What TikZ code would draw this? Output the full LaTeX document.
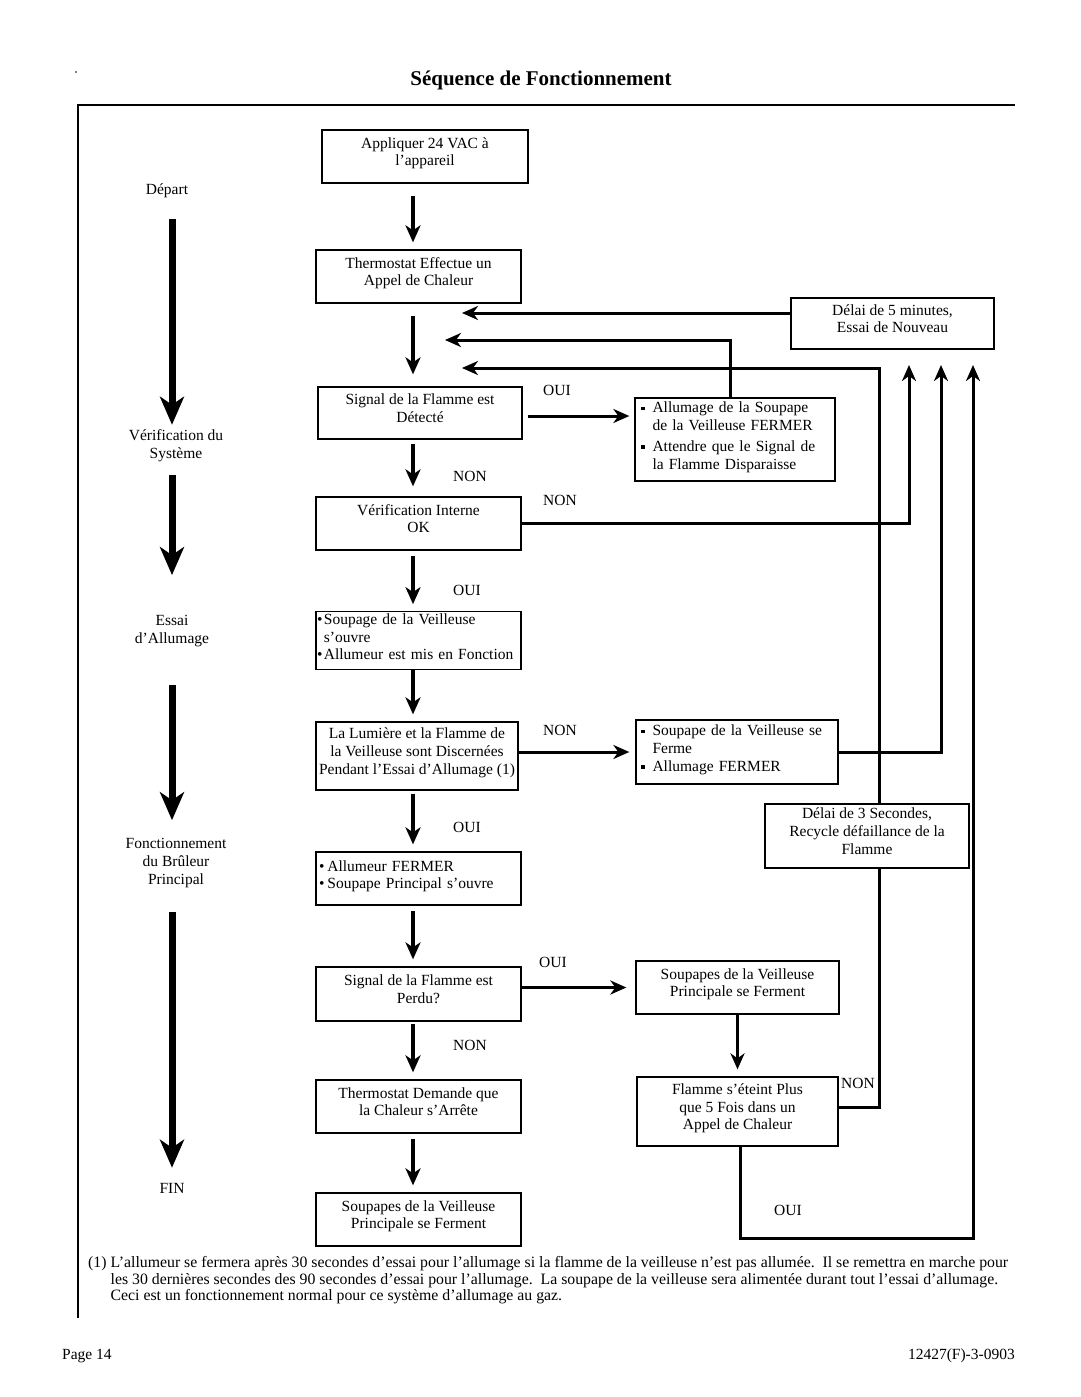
\documentclass[tikz,border=0pt]{standalone}
\usepackage{fontspec}
\setmainfont{Liberation Serif}
\usetikzlibrary{arrows.meta}
\newcommand{\bxf}{\fontsize{15.5}{17.8}\selectfont}
\newcommand{\ftf}{\fontsize{15.8}{16.5}\selectfont}
\newcommand{\sqb}{\raisebox{2.5pt}{\rule{3.5pt}{3.5pt}}}
\newcommand{\bt}[1]{\raisebox{3pt}[\height][\depth]{\begin{tabular}{@{}c@{}}#1\end{tabular}}}
\newcommand{\bl}[2]{\raisebox{2pt}[\height][\depth]{\begin{tabular}{@{}l@{\hspace{#1}}l@{}}#2\end{tabular}}}
\begin{document}
\begin{tikzpicture}[x=1pt,y=-1pt,
 box/.style={draw,line width=1.3pt,inner sep=2pt,align=center,font=\bxf},
 lbox/.style={box,align=left},
 lbl/.style={font=\bxf,inner sep=1pt},
 sarr/.style={line width=3.5pt,-{Stealth[length=17pt,width=15pt,inset=5pt]},shorten <=5pt,shorten >=7pt},
 conn/.style={line width=3pt,-{Stealth[length=16pt,width=14pt,inset=5pt]}},
 plainline/.style={line width=3pt},
 stage/.style={line width=7pt,-{Stealth[length=28pt,width=24pt,inset=8pt]}},
 frame/.style={line width=1.5pt}
]
\useasboundingbox (0,0) rectangle (1080,1397);

% title and frame
\fill (76,72) circle (0.8);
\node[font=\bfseries\fontsize{21}{25}\selectfont] (title) at (541,80) {Séquence de Fonctionnement};
\draw[frame] (1015,105) -- (78,105) -- (78,1318);

% helper coordinates
\coordinate (cb) at (413,0);
\coordinate (col) at (172,0);
\coordinate (v3) at (879,0);
\coordinate (t1) at (462,313);
\coordinate (t2) at (445,340);
\coordinate (t3) at (462,368);
\coordinate (u1) at (909,365);
\coordinate (u2) at (941,365);
\coordinate (u3) at (973,365);
\coordinate (c3) at (973,1238);

% stage labels
\node[lbl] (s1) at (167,191) {Départ};
\node[lbl,align=center] (s2) at (176,446) {Vérification du\\Système};
\node[lbl,align=center] (s3) at (172,631) {Essai\\d’Allumage};
\node[lbl,align=center] (s4) at (176,863) {Fonctionnement\\du Brûleur\\Principal};
\node[lbl] (s5) at (172,1188) {FIN};

\draw[stage,shorten <=20pt,shorten >=4pt] (s1.south -| col) -- (s2.north -| col);
\draw[stage,shorten <=12pt,shorten >=39pt] (s2.south -| col) -- (s3.north -| col);
\draw[stage,shorten <=37pt,shorten >=17pt] (s3.south -| col) -- (s4.north -| col);
\draw[stage,shorten <=23pt,shorten >=14pt] (s4.south -| col) -- (s5.north -| col);

% main column
\node[box,minimum width=206pt,minimum height=53pt] (ap) at (425,156.5) {\bt{Appliquer 24 VAC à\\l’appareil}};
\node[box,minimum width=205pt,minimum height=53pt] (th) at (418.5,276.5) {\bt{Thermostat Effectue un\\Appel de Chaleur}};
\node[box,minimum width=204pt,minimum height=52pt] (sd) at (420,413) {\bt{Signal de la Flamme est\\Détecté}};
\node[box,minimum width=205pt,minimum height=53pt] (vi) at (418.5,523.5) {\bt{Vérification Interne\\OK}};
\node[lbox,minimum width=205pt,minimum height=57pt,text width=203pt,inner xsep=1pt] (so) at (418.5,640.5)
 {\bl{1.5pt}{\textbullet&Soupage de la Veilleuse\\&s’ouvre\\\textbullet&Allumeur est mis en Fonction}};
\node[box,minimum width=202pt,minimum height=68pt,inner xsep=0pt] (lu) at (417,756) {\bt{La Lumière et la Flamme de\\la Veilleuse sont Discernées\\Pendant l’Essai d’Allumage (1)}};
\node[lbox,minimum width=205pt,minimum height=53pt,text width=199pt,inner xsep=3pt] (af) at (418.5,878.5)
 {\bl{3pt}{\textbullet&Allumeur FERMER\\\textbullet&Soupape Principal s’ouvre}};
\node[box,minimum width=205pt,minimum height=54pt] (pe) at (418.5,994) {\bt{Signal de la Flamme est\\Perdu?}};
\node[box,minimum width=205pt,minimum height=53pt] (td) at (418.5,1106.5) {\bt{Thermostat Demande que\\la Chaleur s’Arrête}};
\node[box,minimum width=205pt,minimum height=53pt] (sv) at (418.5,1219.5) {\bt{Soupapes de la Veilleuse\\Principale se Ferment}};

% right column
\node[box,minimum width=203pt,minimum height=51pt] (d5) at (892.5,323.5) {\bt{Délai de 5 minutes,\\Essai de Nouveau}};
\node[lbox,minimum width=200pt,minimum height=83pt,text width=188pt,inner xsep=6pt] (al) at (735,439.5)
 {\bl{8pt}{\sqb&Allumage de la Soupape\\&de la Veilleuse FERMER\\[3pt]\sqb&Attendre que le Signal de\\&la Flamme Disparaisse}};
\node[lbox,minimum width=202pt,minimum height=64pt,text width=192pt,inner xsep=5pt] (sf) at (737,752)
 {\bl{8pt}{\sqb&Soupape de la Veilleuse se\\&Ferme\\\sqb&Allumage FERMER}};
\node[box,minimum width=204pt,minimum height=64pt] (d3) at (867,836) {\bt{Délai de 3 Secondes,\\Recycle défaillance de la\\Flamme}};
\node[box,minimum width=203pt,minimum height=53pt] (sp) at (737.5,987.5) {\bt{Soupapes de la Veilleuse\\Principale se Ferment}};
\node[box,minimum width=201pt,minimum height=69pt] (fl) at (737.5,1111.5) {\bt{Flamme s’éteint Plus\\que 5 Fois dans un\\Appel de Chaleur}};

% labels
\node[lbl] (l1) at (557,390) {OUI};
\node[lbl] (l2) at (470,476) {NON};
\node[lbl] (l3) at (560,500) {NON};
\node[lbl] (l4) at (467,590) {OUI};
\node[lbl] (l5) at (560,730) {NON};
\node[lbl] (l6) at (467,827) {OUI};
\node[lbl] (l7) at (553,962) {OUI};
\node[lbl] (l8) at (470,1045) {NON};
\node[lbl] (l9) at (858,1083) {NON};
\node[lbl] (l10) at (788,1210) {OUI};

% main column arrows
\draw[sarr,shorten <=12pt,shorten >=7pt] (ap.south -| cb) -- (th.north -| cb);
\draw[sarr,shorten <=12pt,shorten >=12pt] (th.south -| cb) -- (sd.north -| cb);
\draw[sarr,shorten <=4pt,shorten >=10pt] (sd.south -| cb) -- (vi.north -| cb);
\draw[sarr] (vi.south -| cb) -- (so.north -| cb);
\draw[sarr,shorten <=0pt] (so.south -| cb) -- (lu.north -| cb);
\draw[sarr,shorten <=3pt] (lu.south -| cb) -- (af.north -| cb);
\draw[sarr] (af.south -| cb) -- (pe.north -| cb);
\draw[sarr,shorten <=2pt] (pe.south -| cb) -- (td.north -| cb);
\draw[sarr] (td.south -| cb) -- (sv.north -| cb);

% horizontal branches
\draw[conn,shorten <=5pt,shorten >=5pt] ([yshift=-3pt]sd.east) -- ([yshift=-3pt]sd.east -| al.west);
\draw[conn,shorten >=6pt] (sf.west -| lu.east) -- (sf.west);
\draw[conn,shorten >=9pt] (pe.east |- sp.west) -- (sp.west);
\draw[conn,shorten >=7pt] (sp.south) -- (fl.north);

% return loops
\draw[conn] (t1 -| d5.west) -- (t1);
\draw[conn] ([xshift=-5pt]al.north) |- (t2);
\draw[conn] (vi.east) -| (u1);
\draw[conn] (sf.east) -| (u2);
\draw[conn] ([xshift=2.5pt]fl.south) |- (c3) -- (u3);
\draw[plainline] ([yshift=4pt]fl.east) -| (v3 |- d3.south);
\draw[conn] (v3 |- d3.north) |- (t3);

% footnote
\node[anchor=north west,inner sep=0pt,font=\ftf,align=left] (fn) at (88,1256)
 {\begin{tabular}{@{}l@{\hspace{4pt}}l@{}}(1)&L’allumeur se fermera après 30 secondes d’essai pour l’allumage si la flamme de la veilleuse n’est pas allumée.\ \ Il se remettra en marche pour\\
 &les 30 dernières secondes des 90 secondes d’essai pour l’allumage.\ \ La soupape de la veilleuse sera alimentée durant tout l’essai d’allumage.\\
 &Ceci est un fonctionnement normal pour ce système d’allumage au gaz.\end{tabular}};

\node[anchor=west,font=\fontsize{15.5}{18}\selectfont,inner sep=0pt] (pg) at (62,1356) {Page 14};
\node[anchor=east,font=\fontsize{15.5}{18}\selectfont,inner sep=0pt] (code) at (1015,1356) {12427(F)-3-0903};
\end{tikzpicture}
\end{document}
